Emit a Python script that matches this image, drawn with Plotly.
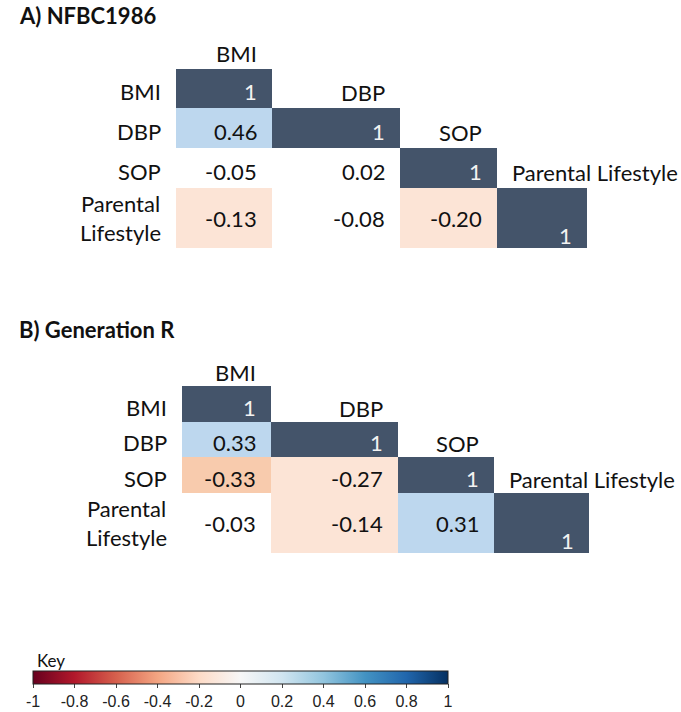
import plotly.graph_objects as go

# ---------------- data ----------------
variables = ["BMI", "DBP", "SOP", "Parental Lifestyle"]
row_labels = ["BMI", "DBP", "SOP", "Parental<br>Lifestyle"]

corr_nfbc1986 = [
    [1.00, None, None, None],
    [0.46, 1.00, None, None],
    [-0.05, 0.02, 1.00, None],
    [-0.13, -0.08, -0.20, 1.00],
]
corr_generation_r = [
    [1.00, None, None, None],
    [0.33, 1.00, None, None],
    [-0.33, -0.27, 1.00, None],
    [-0.03, -0.14, 0.31, 1.00],
]
panel_titles = ["A) NFBC1986", "B) Generation R"]
key_ticks = [-1, -0.8, -0.6, -0.4, -0.2, 0, 0.2, 0.4, 0.6, 0.8, 1]
key_ticktext = ["-1", "-0.8", "-0.6", "-0.4", "-0.2", "0", "0.2", "0.4", "0.6", "0.8", "1"]

# ---------------- layout (pixel geometry) ----------------
W, H = 681, 712
panels = [
    dict(title=panel_titles[0], corr=corr_nfbc1986,
         xe=[176, 272, 400, 497, 587], ye=[69, 108, 148, 188, 248], ty=15),
    dict(title=panel_titles[1], corr=corr_generation_r,
         xe=[182, 271, 398, 494, 589], ye=[386, 422, 457, 493, 553], ty=329),
]

NAVY = "#44546A"
LBLUE = "#BDD7EE"
LPEACH = "#FCE4D6"
DPEACH = "#F8CBAD"
cell_scale = [
    [0.0, DPEACH], [0.35, DPEACH],
    [0.35, LPEACH], [0.45, LPEACH],
    [0.45, "#FFFFFF"], [0.55, "#FFFFFF"],
    [0.55, LBLUE], [0.975, LBLUE],
    [0.975, NAVY], [1.0, NAVY],
]
rdbu = ["#67001f", "#b2182b", "#d6604d", "#f4a582", "#fddbc7", "#f7f7f7",
        "#d1e5f0", "#92c5de", "#4393c3", "#2166ac", "#053061"]
key_scale = [[i / (len(rdbu) - 1), c] for i, c in enumerate(rdbu)]

FONT = "Lato, 'Open Sans', sans-serif"
FS = 22
PAD = 13

fig = go.Figure()
annotations = []

def ann(text, x, y, xanchor="right", color="#111111", size=FS, bold=False, yanchor="middle"):
    if bold:
        text = "<b>" + text + "</b>"
    annotations.append(dict(text=text, x=x, y=y, xref="x", yref="y", showarrow=False,
                            xanchor=xanchor, yanchor=yanchor,
                            font=dict(family=FONT, size=size, color=color)))

for p in panels:
    xe, ye, corr = p["xe"], p["ye"], p["corr"]
    fig.add_trace(go.Heatmap(
        z=corr, x=xe, y=ye, colorscale=cell_scale, zmin=-1, zmax=1,
        showscale=False, hoverinfo="skip", xgap=0, ygap=0,
    ))
    n = len(variables)
    # title
    ann(p["title"], 17, p["ty"], xanchor="left", size=22, bold=True)
    for i in range(n):
        top, bot = ye[i], ye[i + 1]
        cy = (top + bot) / 2
        last = i == n - 1
        # row label
        ann(row_labels[i], xe[0] - 13, cy + (0 if last else 3))
        # column header above diagonal cell
        rh = ye[1] - ye[0]
        hy = top - rh / 2 + 4
        if i < n - 1:
            ann(variables[i], xe[i + 1] - PAD, hy)
        else:
            ann(variables[i], xe[i] + PAD, hy, xanchor="left")
        for j in range(i + 1):
            v = corr[i][j]
            if v is None:
                continue
            diag = i == j
            txt = "1" if diag else f"{v:.2f}"
            col = "#F2F2F2" if diag else "#111111"
            if last:
                vy = bot - 13 if diag else cy
            else:
                vy = cy + 3
            ann(txt, xe[j + 1] - PAD, vy, color=col)

# key title
ann("Key", 35, 660, xanchor="left", size=17)

# colour key (colorbar)
fig.add_trace(go.Scatter(
    x=[None] * len(key_ticks), y=[None] * len(key_ticks), mode="markers",
    hoverinfo="skip", showlegend=False,
    marker=dict(color=key_ticks, colorscale=key_scale, cmin=-1, cmax=1, showscale=True,
                colorbar=dict(
                    orientation="h", x=33 / W, xanchor="left", y=1 - 671 / H, yanchor="top",
                    len=415, lenmode="pixels", thickness=13, thicknessmode="pixels",
                    xpad=0, ypad=0, outlinewidth=1, outlinecolor="#222222",
                    tickvals=key_ticks, ticktext=key_ticktext, ticks="outside",
                    ticklen=4, tickcolor="#444444",
                    tickfont=dict(family="Liberation Sans, Arial, sans-serif", size=16, color="#222222"),
                )),
))

fig.update_layout(
    width=W, height=H, margin=dict(l=0, r=0, t=0, b=0, autoexpand=False),
    paper_bgcolor="white", plot_bgcolor="white", showlegend=False,
    xaxis=dict(range=[0, W], visible=False, fixedrange=True),
    yaxis=dict(range=[H, 0], visible=False, fixedrange=True),
    annotations=annotations,
)

fig.write_html(
    "out.html",
    config={"displayModeBar": False},
    post_script="document.body.style.margin='0';document.body.style.overflow='hidden';",
)
